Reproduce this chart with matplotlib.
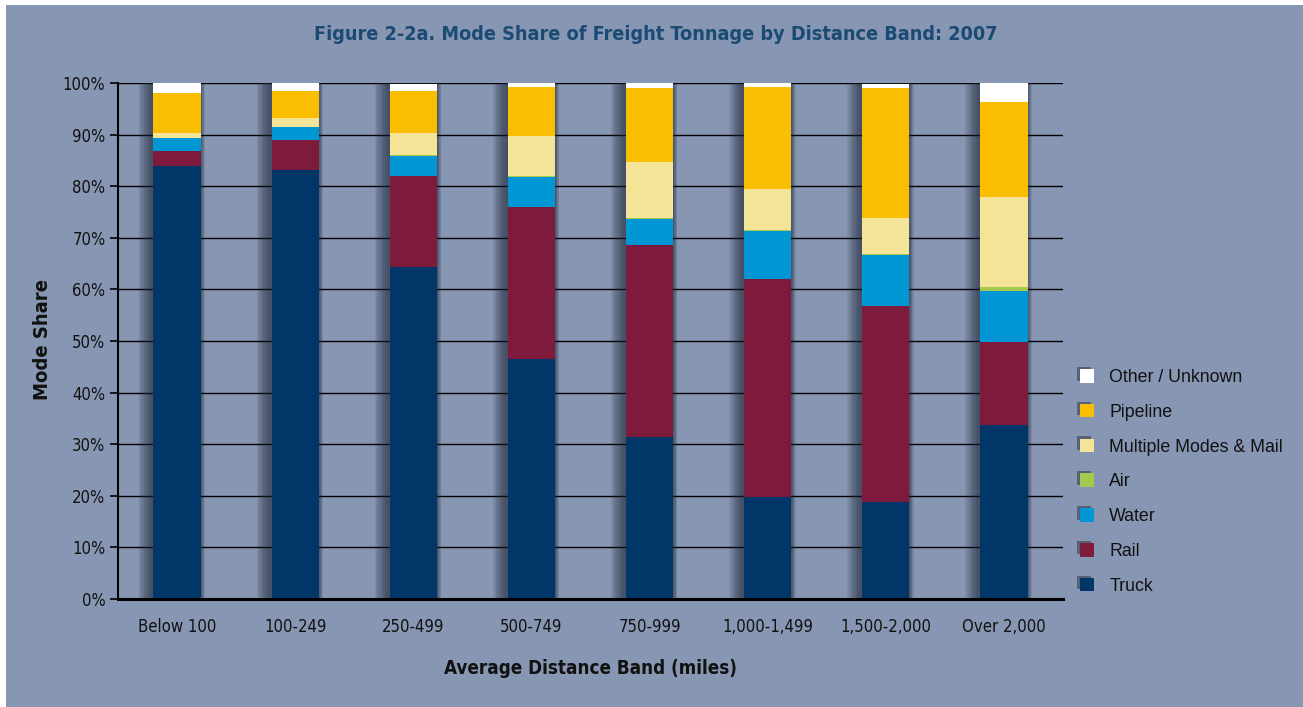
import matplotlib
matplotlib.use("Agg")
import matplotlib.pyplot as plt
import numpy as np
from matplotlib.patches import Rectangle
from matplotlib.ticker import PercentFormatter
from matplotlib import font_manager as fm
from matplotlib import patheffects as pe

categories = ["Below 100", "100-249", "250-499", "500-749", "750-999",
              "1,000-1,499", "1,500-2,000", "Over 2,000"]
truck    = [83.9, 83.1, 64.3, 46.5, 31.4, 19.7, 18.8, 33.7]
rail     = [3.0, 5.8, 17.6, 29.5, 37.3, 42.4, 38.0, 16.1]
water    = [2.4, 2.5, 4.0, 5.7, 4.9, 9.3, 9.8, 9.8]
air      = [0.1, 0.05, 0.1, 0.2, 0.2, 0.2, 0.2, 0.9]
multi    = [0.9, 1.7, 4.3, 7.8, 10.9, 7.9, 7.0, 17.5]
pipeline = [7.8, 5.3, 8.2, 9.5, 14.3, 19.8, 25.3, 18.4]
other    = [2.0, 1.6, 1.4, 0.9, 1.2, 0.7, 0.7, 3.6]

series_names = ["Truck", "Rail", "Water", "Air", "Multiple Modes & Mail",
                "Pipeline", "Other / Unknown"]
series_vals = [truck, rail, water, air, multi, pipeline, other]
colors = ["#013668", "#7E1B3D", "#0097D4", "#A5C94E", "#F3E497",
          "#F9BE00", "#FFFFFF"]
yticks = [0, 10, 20, 30, 40, 50, 60, 70, 80, 90, 100]

names = {f.name for f in fm.fontManager.ttflist}
cond_family = "Liberation Sans Narrow" if "Liberation Sans Narrow" in names else "DejaVu Sans"


def cfont(size, weight="normal"):
    return fm.FontProperties(family=[cond_family, "DejaVu Sans"], size=size,
                             weight=weight, stretch="condensed")


BG = "#8796B2"
W, H = 1303, 707
fig = plt.figure(figsize=(W / 100, H / 100), dpi=100, facecolor="white")
fig.patches.append(Rectangle((6 / W, 0), 1, 1 - 5 / H, transform=fig.transFigure,
                             facecolor=BG, edgecolor="none", zorder=-10))

ax = fig.add_axes([118 / W, 1 - 599 / H, (1063 - 118) / W, (599 - 83) / H])
ax.set_facecolor("none")

x = np.arange(len(categories))
bw = 0.40
px_x = 1.0 / 118.0   # data units per pixel in x
px_y = 100.0 / 516.0  # data units per pixel in y

totals = np.sum(np.array(series_vals), axis=0)
# drop shadow (mostly to the upper-left)
for i, t in enumerate(totals):
    for k in range(8):
        left = x[i] - bw / 2 - (3 + 1.7 * k) * px_x
        right = x[i] + bw / 2 + (0.6 * k) * px_x
        top = t + (2 + 1.3 * k) * px_y
        ax.add_patch(Rectangle((left, 0), right - left, top, facecolor="#1b2233",
                               edgecolor="none", alpha=0.1, zorder=1))

bottom = np.zeros(len(categories))
for name, vals, c in zip(series_names, series_vals, colors):
    ax.bar(x, vals, bw, bottom=bottom, color=c, label=name, zorder=3,
           edgecolor="none")
    bottom += np.array(vals)

ax.set_xlim(-0.5, len(categories) - 0.5)
ax.set_ylim(0, 100)
ax.set_yticks(yticks)
ax.yaxis.set_major_formatter(PercentFormatter(decimals=0))
ax.set_xticks(x)
ax.set_xticklabels(categories)
ax.grid(axis="y", color="black", linewidth=1.0, zorder=0)
ax.set_axisbelow(True)
for s in ["top", "right"]:
    ax.spines[s].set_visible(False)
ax.spines["left"].set_linewidth(1.5)
ax.spines["bottom"].set_linewidth(2.2)
ax.spines["bottom"].set_zorder(5)
ax.tick_params(axis="y", length=6, width=1.2, direction="out", pad=3)
ax.tick_params(axis="x", length=0, pad=14)

for lab in ax.get_yticklabels() + ax.get_xticklabels():
    lab.set_fontproperties(cfont(12))
    lab.set_color("#111111")

fig.text(656 / W, 1 - 35 / H,
         "Figure 2-2a. Mode Share of Freight Tonnage by Distance Band: 2007",
         ha="center", va="center", color="#1B4A74",
         fontproperties=cfont(14.2, "bold"))
fig.text(591 / W, 1 - 669 / H, "Average Distance Band (miles)", ha="center",
         va="center", color="#111111", fontproperties=cfont(13.5, "bold"))
fig.text(42 / W, 1 - 340 / H, "Mode Share", ha="center", va="center",
         rotation=90, color="#111111", fontproperties=cfont(14.5, "bold"))

handles, labels = ax.get_legend_handles_labels()
leg = fig.legend(handles[::-1], labels[::-1], loc="upper left",
                 bbox_to_anchor=(1064 / W, 1 - 353 / H), frameon=False,
                 handlelength=0.8, handleheight=0.8, handletextpad=0.85,
                 labelspacing=1.0,
                 prop={"family": "Liberation Sans", "size": 12.8})
for t in leg.get_texts():
    t.set_color("#111111")
for p in leg.get_patches():
    p.set_path_effects([pe.SimplePatchShadow(offset=(-2.5, 1.5), shadow_rgbFace="#1b2233",
                                             alpha=0.45), pe.Normal()])

fig.savefig("out.png", dpi=100, facecolor="white")
